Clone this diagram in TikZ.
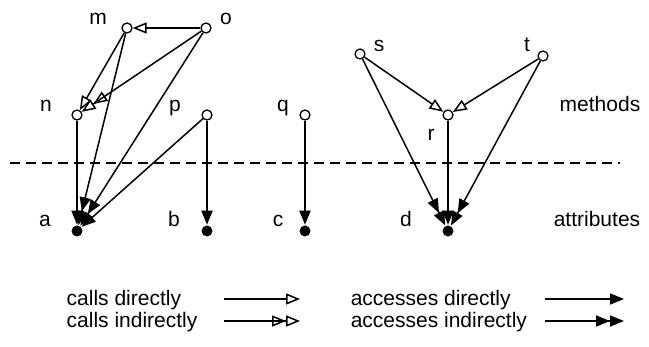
\documentclass[tikz,border=0pt]{standalone}
\usepackage{fontspec}
\setmainfont{Liberation Sans}
\usetikzlibrary{arrows.meta}
\begin{document}
\begin{tikzpicture}[x=1pt,y=-1pt,line width=1.5pt,
  meth/.style={circle,draw,fill=white,inner sep=0pt,minimum size=10pt,line width=1.3pt},
  attr/.style={circle,fill=black,inner sep=0pt,minimum size=11pt},
  lbl/.style={font=\fontsize{21}{25}\selectfont,anchor=base,inner sep=0pt},
  leg/.style={font=\fontsize{21}{25}\selectfont,anchor=base west,inner sep=0pt},
  cd/.style={-{Triangle[open,length=14pt,width=11pt]}},
  ci/.style={-{Triangle[open,length=14pt,width=11pt]Triangle[open,length=14pt,width=11pt]}},
  ad/.style={-{Triangle[length=14pt,width=11pt]}},
  ai/.style={-{Triangle[length=14pt,width=11pt]Triangle[length=14pt,width=11pt]}},
  sep/.style={dashed,dash pattern=on 10pt off 6pt,line width=1.4pt}]
\useasboundingbox (0,0) rectangle (649,347);
% methods
\node[meth] (m) at (127,28) {};
\node[meth] (o) at (206,28) {};
\node[meth] (n) at (77,115) {};
\node[meth] (p) at (207,115) {};
\node[meth] (q) at (305,115) {};
\node[meth] (s) at (360,54) {};
\node[meth] (t) at (543,56) {};
\node[meth] (r) at (448,115) {};
% attributes
\node[attr] (a) at (77,231) {};
\node[attr] (b) at (207,231) {};
\node[attr] (c) at (305,231) {};
\node[attr] (d) at (448,231) {};
% labels
\node[lbl] (lm) at (98,25) {m};
\node[lbl] (lo) at (226,25) {o};
\node[lbl] (ln) at (46,112) {n};
\node[lbl] (lp) at (175,112) {p};
\node[lbl] (lq) at (283,112) {q};
\node[lbl] (ls) at (379,52) {s};
\node[lbl] (lt) at (527,52) {t};
\node[lbl] (lr) at (431,141) {r};
\node[lbl] (la) at (45,227) {a};
\node[lbl] (lb) at (174,227) {b};
\node[lbl] (lc) at (278,227) {c};
\node[lbl] (ld) at (406,227) {d};
\node[lbl] (meths) at (600,112) {methods};
\node[lbl] (attrs) at (597,227) {attributes};
% separator
\coordinate (sl) at (10,163);
\coordinate (sr) at (620,163);
\draw[sep] (sl) -- (sr);
% edges
\draw[cd] (o) -- (m);
\draw[cd] (m) -- (n);
\draw[ci] (o) -- (n);
\draw[ad] (n) -- (a);
\draw[ai] (m) -- (a);
\draw[ai] (o) -- (a);
\draw[ad] (p) -- (a);
\draw[ad] (p) -- (b);
\draw[ad] (q) -- (c);
\draw[cd] (s) -- (r);
\draw[cd] (t) -- (r);
\draw[ad] (r) -- (d);
\draw[ai] (s) -- (d);
\draw[ai] (t) -- (d);
% legend
\node[leg] (l1) at (66,306) {calls directly};
\node[leg] (l2) at (66,328) {calls indirectly};
\node[leg] (l3) at (350,306) {accesses directly};
\node[leg] (l4) at (350,328) {accesses indirectly};
\coordinate (c1a) at (224,299);
\coordinate (c1b) at (300,299);
\coordinate (c2a) at (224,321);
\coordinate (c2b) at (300,321);
\coordinate (c3a) at (545,299);
\coordinate (c3b) at (624,299);
\coordinate (c4a) at (545,321);
\coordinate (c4b) at (624,321);
\draw[cd] (c1a) -- (c1b);
\draw[ci] (c2a) -- (c2b);
\draw[ad] (c3a) -- (c3b);
\draw[ai] (c4a) -- (c4b);
\end{tikzpicture}
\end{document}
